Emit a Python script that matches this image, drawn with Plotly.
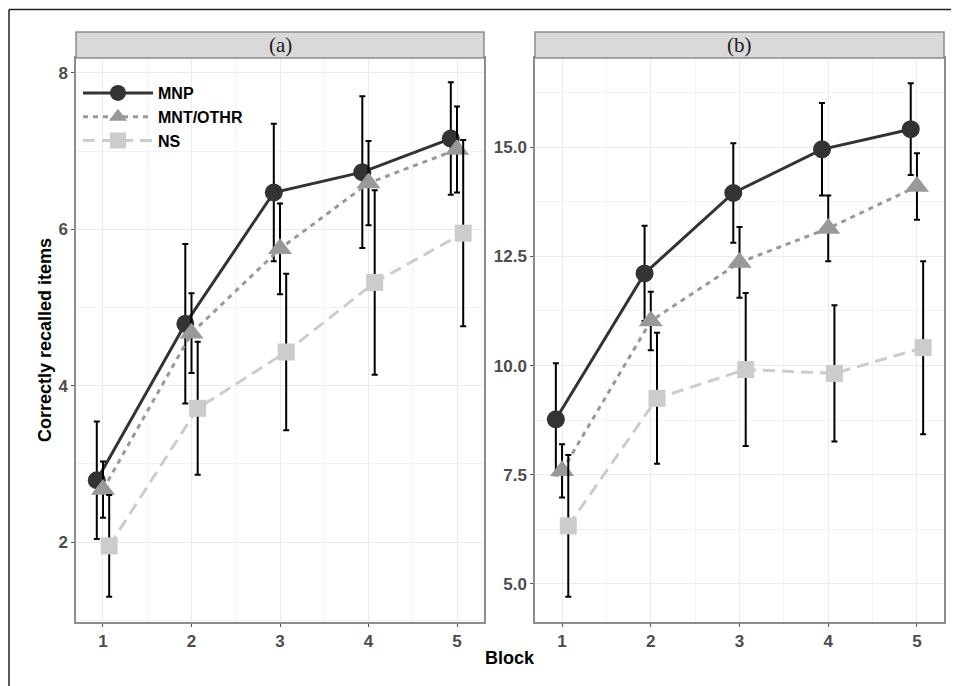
import plotly.graph_objects as go

blocks = [1, 2, 3, 4, 5]
series = ["MNP", "MNT/OTHR", "NS"]

# Panel (a)
a_mnp = [2.79, 4.79, 6.47, 6.73, 7.16]
a_mnp_err = [0.75, 1.02, 0.88, 0.97, 0.72]
a_mnt = [2.67, 4.67, 5.75, 6.59, 7.02]
a_mnt_err = [0.36, 0.51, 0.58, 0.54, 0.55]
a_ns = [1.95, 3.71, 4.43, 5.32, 5.95]
a_ns_err = [0.65, 0.85, 1.00, 1.18, 1.19]

# Panel (b)
b_mnp = [8.77, 12.11, 13.95, 14.95, 15.41]
b_mnp_err = [1.28, 1.09, 1.14, 1.06, 1.05]
b_mnt = [7.59, 11.02, 12.36, 13.14, 14.10]
b_mnt_err = [0.61, 0.67, 0.81, 0.75, 0.76]
b_ns = [6.33, 9.25, 9.91, 9.82, 10.41]
b_ns_err = [1.62, 1.50, 1.75, 1.56, 1.98]

panel_labels = ["(a)", "(b)"]
x_tick_labels = ["1", "2", "3", "4", "5"]
a_y_ticks = [2, 4, 6, 8]
a_y_tick_labels = ["2", "4", "6", "8"]
b_y_ticks = [5.0, 7.5, 10.0, 12.5, 15.0]
b_y_tick_labels = ["5.0", "7.5", "10.0", "12.5", "15.0"]

styles = {
    "MNP": dict(color="#333333", dash="solid", symbol="circle", size=18, offset=-0.07),
    "MNT/OTHR": dict(color="#999999", dash="5px,5px", symbol="triangle-up", size=21, offset=0.0),
    "NS": dict(color="#cccccc", dash="12px,7px", symbol="square", size=17, offset=0.07),
}

panels = [
    (dict(zip(series, [a_mnp, a_mnt, a_ns])), dict(zip(series, [a_mnp_err, a_mnt_err, a_ns_err])), "x", "y"),
    (dict(zip(series, [b_mnp, b_mnt, b_ns])), dict(zip(series, [b_mnp_err, b_mnt_err, b_ns_err])), "x2", "y2"),
]

fig = go.Figure()
for pi, (vals, errs, xa, ya) in enumerate(panels):
    for s in series:
        st = styles[s]
        fig.add_trace(go.Scatter(
            x=[b + st["offset"] for b in blocks],
            y=vals[s],
            mode="lines+markers",
            name=s,
            legendgroup=s,
            showlegend=(pi == 0),
            line=dict(color=st["color"], width=3, dash=st["dash"]),
            marker=dict(color=st["color"], symbol=st["symbol"], size=st["size"], line=dict(width=0)),
            error_y=dict(type="data", array=errs[s], visible=True, color="black", thickness=2, width=3),
            xaxis=xa, yaxis=ya,
        ))

# page body has an 8px margin: work in reference-pixel coordinates, shifted by it
OFF = 8
W, H = 959 - OFF, 686 - OFF
ml, mr, mt, mb = 76 - OFF, 959 - 944, 58 - OFF, 686 - 622
pw = W - ml - mr
ph = H - mt - mb
def px_x(p):
    return (p - OFF - ml) / pw
def px_y(p):
    return 1 - (p - OFF - mt) / ph

grid = "#ebebeb"
tickfont = dict(family="Liberation Sans, Arial", size=17, color="#4d4d4d", weight="bold")
common_x = dict(range=[0.695, 5.305], tickvals=blocks, ticktext=x_tick_labels, showgrid=True,
                gridcolor=grid, gridwidth=1.2, zeroline=False, showline=True, mirror=True,
                linecolor="#8c8c8c", linewidth=1.5, ticks="outside", ticklen=3, tickcolor="#555",
                tickfont=tickfont,
                minor=dict(tick0=0.5, dtick=1, showgrid=True, gridcolor="#f3f3f3", gridwidth=0.8))
common_y = dict(showgrid=True, gridcolor=grid, gridwidth=1.2, zeroline=False, showline=True, mirror=True,
                linecolor="#8c8c8c", linewidth=1.5, ticks="outside", ticklen=3, tickcolor="#555",
                tickfont=tickfont)

xa_dom = [0, px_x(484)]
xb_dom = [px_x(535), 1]

fig.update_layout(
    width=W, height=H,
    margin=dict(l=ml, r=mr, t=mt, b=mb),
    paper_bgcolor="white", plot_bgcolor="white",
    font=dict(family="Liberation Sans, Arial", color="#000"),
    xaxis=dict(domain=xa_dom, anchor="y", **common_x),
    xaxis2=dict(domain=xb_dom, anchor="y2", **common_x),
    yaxis=dict(domain=[0, 1], anchor="x", range=[0.977, 8.19], tickvals=a_y_ticks, ticktext=a_y_tick_labels,
               minor=dict(tick0=1, dtick=1, showgrid=True, gridcolor="#f3f3f3", gridwidth=0.8), **common_y),
    yaxis2=dict(domain=[0, 1], anchor="x2", range=[4.13, 17.04], tickvals=b_y_ticks, ticktext=b_y_tick_labels,
                minor=dict(tick0=3.75, dtick=1.25, showgrid=True, gridcolor="#f3f3f3", gridwidth=0.8), **common_y),
    showlegend=True,
    legend=dict(x=px_x(78), y=px_y(76), xanchor="left", yanchor="top", bgcolor="rgba(0,0,0,0)",
                font=dict(family="Liberation Sans, Arial", size=16, color="#000", weight="bold"),
                itemwidth=70, tracegroupgap=0),
)

shapes = []
annotations = []
for dom, lab in zip([xa_dom, xb_dom], panel_labels):
    shapes.append(dict(type="rect", xref="paper", yref="paper", x0=dom[0], x1=dom[1],
                       y0=1, y1=px_y(32), fillcolor="#d9d9d9", line=dict(color="#8c8c8c", width=1.5)))
    annotations.append(dict(text=lab, xref="paper", yref="paper", x=(dom[0] + dom[1]) / 2, y=px_y(45),
                            showarrow=False, font=dict(family="Liberation Serif, Times New Roman", size=21, color="#1a1a1a"),
                            xanchor="center", yanchor="middle"))

# outer frame lines (top line kept just inside the drawable area)
shapes.append(dict(type="line", xref="paper", yref="paper", x0=px_x(9), x1=px_x(959), y0=px_y(9.5), y1=px_y(9.5),
                   line=dict(color="#222", width=1.5)))
shapes.append(dict(type="line", xref="paper", yref="paper", x0=px_x(9), x1=px_x(9), y0=px_y(9.5), y1=px_y(686),
                   line=dict(color="#222", width=1.5)))

annotations.append(dict(text="Correctly recalled items", xref="paper", yref="paper", x=px_x(45), y=px_y(340),
                        textangle=-90, showarrow=False, xanchor="center", yanchor="middle",
                        font=dict(family="Liberation Sans, Arial", size=18, color="#000", weight="bold")))
annotations.append(dict(text="Block", xref="paper", yref="paper", x=px_x(510), y=px_y(658),
                        showarrow=False, xanchor="center", yanchor="middle",
                        font=dict(family="Liberation Sans, Arial", size=18, color="#000", weight="bold")))

fig.update_layout(shapes=shapes, annotations=annotations)
fig.write_html("out.html")
